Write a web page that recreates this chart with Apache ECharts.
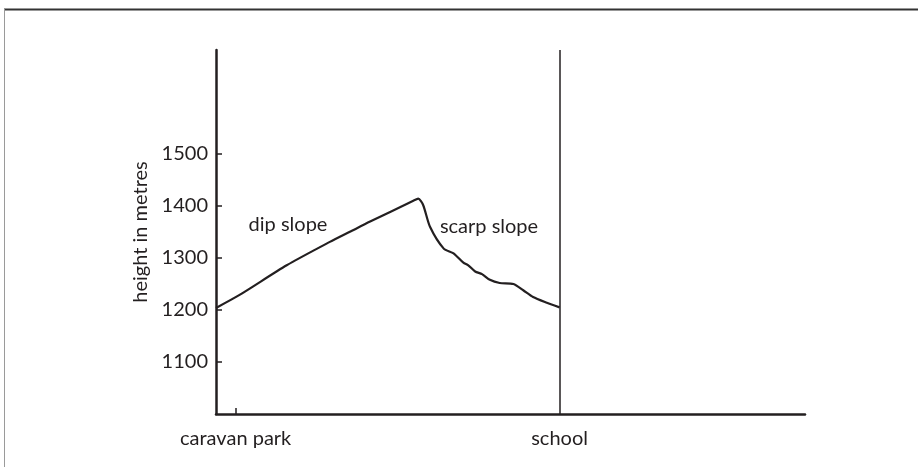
<!DOCTYPE html>
<html>
<head>
<meta charset="utf-8">
<script src="https://cdn.jsdelivr.net/npm/echarts@6/dist/echarts.min.js"></script>
<style>
  html, body { margin: 0; padding: 0; background: #ffffff; }
  #chart { width: 918px; height: 467px; }
</style>
</head>
<body>
<div id="chart"></div>
<script>
// Cross-section profile: distance along the transect vs. ground height
const distance = [0, 2.4, 7.2, 11.6, 13.7, 15.7, 20.1, 20.6, 21.1, 21.8, 23.2, 24.2, 25.2, 25.7, 26.4, 27.1, 27.9, 28.9, 30.3, 31.3, 32.3, 33.7, 35];
const height   = [1204, 1229, 1286, 1331, 1351, 1370, 1410, 1414, 1402, 1360, 1318, 1309, 1291, 1286, 1274, 1269, 1258, 1252, 1250, 1238, 1225, 1214, 1205];

// Places marked along the x axis
const placeNames = ['caravan park', 'school'];
const placePositions = [2, 35];

// Height tick labels
const heightTicks = [1100, 1200, 1300, 1400, 1500];

const ink = '#231f20';
const fontFamily = 'Lato, "Open Sans", sans-serif';

const chart = echarts.init(document.getElementById('chart'));

chart.setOption({
  animation: false,
  backgroundColor: '#ffffff',
  grid: { left: 216, right: 113, top: 50, bottom: 53, containLabel: false },
  xAxis: {
    type: 'value',
    min: 0,
    max: 60,
    splitLine: { show: false },
    axisLine: { show: true, lineStyle: { color: ink, width: 2.5 } },
    axisTick: {
      show: true,
      inside: true,
      length: 6,
      customValues: [placePositions[0]],
      lineStyle: { color: ink, width: 1.5 }
    },
    axisLabel: {
      show: true,
      customValues: placePositions,
      formatter: v => placeNames[placePositions.indexOf(v)] || '',
      color: ink,
      fontFamily: fontFamily,
      fontSize: 20,
      margin: 15
    }
  },
  yAxis: {
    type: 'value',
    min: 1000,
    max: 1700,
    interval: 100,
    name: 'height in metres',
    nameLocation: 'middle',
    nameRotate: 90,
    nameGap: 62,
    nameTextStyle: { color: ink, fontFamily: fontFamily, fontSize: 20 },
    splitLine: { show: false },
    axisLine: { show: true, lineStyle: { color: ink, width: 2.5 } },
    axisTick: {
      show: true,
      inside: true,
      length: 6,
      customValues: heightTicks,
      lineStyle: { color: ink, width: 1.5 }
    },
    axisLabel: {
      show: true,
      customValues: heightTicks,
      formatter: v => String(v),
      color: ink,
      fontFamily: fontFamily,
      fontSize: 20,
      margin: 8
    }
  },
  series: [{
    type: 'line',
    data: distance.map((d, i) => [d, height[i]]),
    smooth: 0.25,
    showSymbol: false,
    symbol: 'none',
    lineStyle: { color: ink, width: 2.2 },
    markLine: {
      silent: true,
      symbol: 'none',
      label: { show: false },
      lineStyle: { color: ink, width: 1.5, type: 'solid' },
      data: [{ xAxis: placePositions[1] }]
    }
  }],
  graphic: [
    // page frame: heavy top rule and light left rule
    { type: 'line', shape: { x1: 4, y1: 9.5, x2: 918, y2: 9.5 }, style: { stroke: '#333333', lineWidth: 2 } },
    { type: 'line', shape: { x1: 4.5, y1: 9, x2: 4.5, y2: 467 }, style: { stroke: '#9a9a9a', lineWidth: 1 } },
    // slope annotations
    { type: 'text', x: 288, y: 225, style: { text: 'dip slope', fill: ink, font: '20px ' + fontFamily, align: 'center', verticalAlign: 'middle' } },
    { type: 'text', x: 489, y: 227, style: { text: 'scarp slope', fill: ink, font: '20px ' + fontFamily, align: 'center', verticalAlign: 'middle' } }
  ]
});
</script>
</body>
</html>
